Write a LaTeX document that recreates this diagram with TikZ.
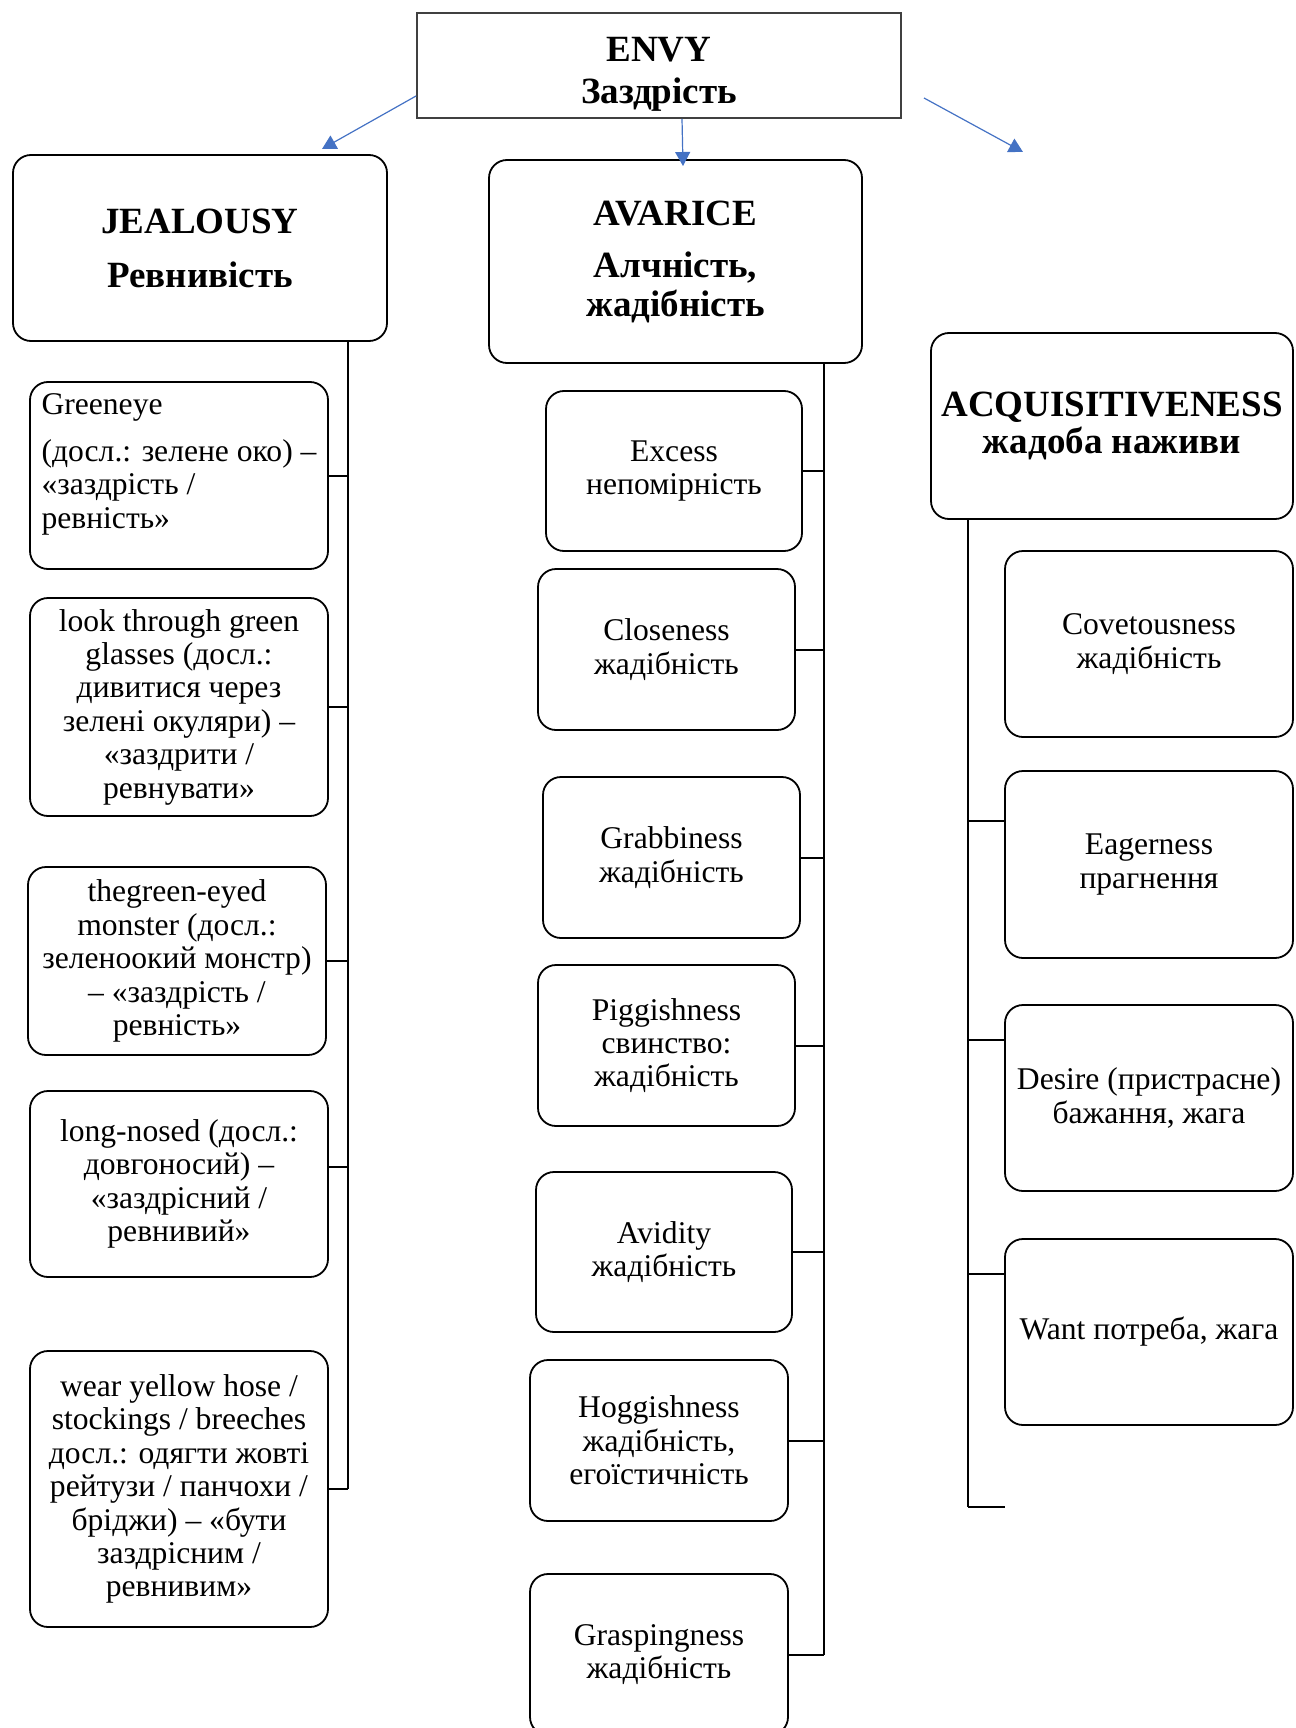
\documentclass[tikz,border=0pt]{standalone}
\usepackage{fontspec}
\setmainfont{Liberation Serif}
\usetikzlibrary{arrows.meta}
\definecolor{arrowblue}{HTML}{4472C4}
\newcommand{\leaffont}{\fontsize{15.8pt}{16.7pt}\selectfont}
\newcommand{\headfont}{\bfseries\fontsize{18.5pt}{19.5pt}\selectfont}

\begin{document}
\begin{tikzpicture}[x=0.5pt,y=-0.5pt,
  head/.style={draw,rounded corners=9pt,line width=0.9pt,align=center,font=\headfont,inner sep=2pt},
  leaf/.style={draw,rounded corners=9pt,line width=0.9pt,align=center,font=\leaffont,inner sep=2pt},
  trunk/.style={line width=1.3pt},
  twig/.style={line width=1pt},
  arr/.style={arrowblue,line width=0.6pt,-{Triangle[length=7pt,width=7.5pt]}}]
  \useasboundingbox (0,0) rectangle (1295,1728);
  \clip (0,0) rectangle (1295,1728);
  % top concept
  \node[draw=black!75,line width=0.8pt,align=center,font=\headfont,minimum width=242pt,minimum height=51.5pt] (envy) at (659,65.5) {\rule{0pt}{21pt}ENVY\\[1.5pt]Заздрість};
  \node[head,minimum width=187pt,minimum height=93pt] (jeal) at (200,248) {JEALOUSY\\[7.5pt]Ревнивість};
  \node[head,minimum width=186.5pt,minimum height=101.5pt] (avar) at (675.5,261.5) {AVARICE\\[6.5pt]Алчність,\\жадібність};
  \node[head,minimum width=181pt,minimum height=93pt] (acq) at (1112,426) {ACQUISITIVENESS\\[-1pt]жадоба наживи};
  \coordinate (tipJ) at (322,149);
  \coordinate (tipA) at (683,166);
  \coordinate (srcR) at (924,98);
  \coordinate (tipR) at (1023,152);
  \draw[arr] ([yshift=11.5pt]envy.south west) -- (tipJ);
  \draw[arr] ([xshift=11.5pt]envy.south) -- (tipA);
  \draw[arr] (srcR) -- (tipR);
  % jealousy
  \node[leaf,align=left,minimum width=149pt,minimum height=93.5pt] (j1) at (179,475.5) {Greeneye\\[7pt](досл.: зелене око) –\\«заздрість /\\ревність»\\[-2pt]\mbox{}};
  \node[leaf,minimum width=149pt,minimum height=109pt] (j2) at (179,707) {look through green\\glasses (досл.:\\дивитися через\\зелені окуляри) –\\«заздрити /\\ревнувати»};
  \node[leaf,minimum width=149pt,minimum height=94pt] (j3) at (177,961) {thegreen-eyed\\monster (досл.:\\зеленоокий монстр)\\– «заздрість /\\ревність»};
  \node[leaf,minimum width=149pt,minimum height=93pt] (j4) at (179,1184) {long-nosed (досл.:\\довгоносий) –\\«заздрісний /\\ревнивий»};
  \node[leaf,minimum width=149pt,minimum height=138pt] (j5) at (179,1489) {wear yellow hose /\\stockings / breeches\\досл.: одягти жовті\\рейтузи / панчохи /\\бріджи) – «бути\\заздрісним /\\ревнивим»};
  \coordinate (jt) at (348,1489);
  \draw[trunk] (jeal.south -| jt) -- (jt);
  \foreach \n in {j1,j2,j3,j5} \draw[twig] (\n.east) -- (\n.east -| jt);
  \draw[twig] ([yshift=8.5pt]j4.east) -- ([yshift=8.5pt]j4.east -| jt);
  % avarice
  \node[leaf,minimum width=128pt,minimum height=80pt] (m1) at (674,471) {Excess\\непомірність};
  \node[leaf,minimum width=128.5pt,minimum height=80.5pt] (m2) at (666.5,649.5) {Closeness\\жадібність};
  \node[leaf,minimum width=128.5pt,minimum height=80.5pt] (m3) at (671.5,857.5) {Grabbiness\\жадібність};
  \node[leaf,minimum width=128.5pt,minimum height=80.5pt] (m4) at (666.5,1045.5) {Piggishness\\свинство:\\жадібність};
  \node[leaf,minimum width=128pt,minimum height=80pt] (m5) at (664,1252) {Avidity\\жадібність};
  \node[leaf,minimum width=129pt,minimum height=80.5pt] (m6) at (659,1440.5) {Hoggishness\\жадібність,\\егоїстичність};
  \node[leaf,minimum width=129pt,minimum height=80.5pt] (m7) at (659,1654.5) {Graspingness\\жадібність};
  \coordinate (mt) at (824,1654.5);
  \draw[trunk] (avar.south -| mt) -- (mt);
  \foreach \n in {m1,m2,m3,m4,m5,m6,m7} \draw[twig] (\n.east) -- (\n.east -| mt);
  % acquisitiveness
  \node[leaf,minimum width=144pt,minimum height=93pt] (a1) at (1149,644) {Covetousness\\жадібність};
  \node[leaf,minimum width=144pt,minimum height=93.5pt] (a2) at (1149,864.5) {Eagerness\\прагнення};
  \node[leaf,minimum width=144pt,minimum height=93pt] (a3) at (1149,1098) {Desire (пристрасне)\\бажання, жага};
  \node[leaf,minimum width=144pt,minimum height=93pt] (a4) at (1149,1332) {Want потреба, жага};
  \coordinate (at) at (968,1507);
  \coordinate (stub) at (1005,1507);
  \draw[trunk] (acq.south -| at) -- (at);
  \draw[twig] (at) -- (stub);
  \draw[twig] ([yshift=21.75pt]a2.west) -- ([yshift=21.75pt]a2.west -| at);
  \foreach \n in {a3,a4} \draw[twig] ([yshift=29pt]\n.west) -- ([yshift=29pt]\n.west -| at);
\end{tikzpicture}
\end{document}
